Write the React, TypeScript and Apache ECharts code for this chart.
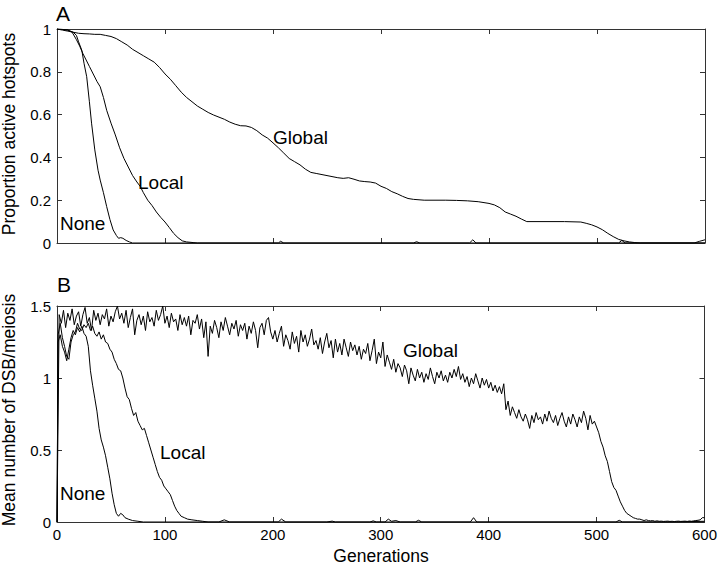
import React, { useEffect, useRef } from "react";
import * as echarts from "echarts";

// Panel A: proportion of active hotspots [generation, value]
const aGlobal: [number, number][] = [
  [0, 1], [5, 0.995], [10, 0.99], [15, 0.985], [20, 0.98], [25, 0.978], [30, 0.977], [35, 0.975], [40, 0.975],
  [45, 0.97], [50, 0.965], [55, 0.955], [60, 0.94], [65, 0.925], [70, 0.905], [75, 0.89], [80, 0.875], [85, 0.86],
  [90, 0.845], [95, 0.82], [100, 0.79], [105, 0.765], [110, 0.735], [115, 0.705], [120, 0.68], [125, 0.66],
  [130, 0.64], [135, 0.625], [140, 0.61], [145, 0.598], [150, 0.588], [155, 0.578], [160, 0.565], [165, 0.555],
  [170, 0.548], [175, 0.547], [180, 0.54], [185, 0.525], [190, 0.505], [195, 0.49], [200, 0.468], [205, 0.445],
  [210, 0.42], [215, 0.395], [220, 0.38], [225, 0.365], [230, 0.345], [235, 0.33], [240, 0.325], [250, 0.315],
  [260, 0.305], [265, 0.302], [270, 0.305], [275, 0.298], [280, 0.29], [285, 0.287], [290, 0.285], [295, 0.28],
  [300, 0.265], [305, 0.255], [310, 0.24], [315, 0.23], [320, 0.218], [325, 0.208], [330, 0.204], [340, 0.2],
  [350, 0.2], [360, 0.2], [370, 0.199], [380, 0.197], [390, 0.193], [400, 0.185], [405, 0.178], [410, 0.165],
  [415, 0.145], [420, 0.135], [425, 0.125], [430, 0.112], [435, 0.1], [450, 0.1], [470, 0.1], [485, 0.098],
  [490, 0.092], [495, 0.085], [500, 0.075], [505, 0.062], [510, 0.045], [515, 0.03], [520, 0.017], [525, 0.01],
  [530, 0.005], [535, 0.002], [540, 0], [600, 0],
];
const aLocal: [number, number][] = [
  [0, 1], [5, 0.998], [10, 0.995], [14, 0.985], [18, 0.95], [21, 0.92], [24, 0.885], [27, 0.855], [30, 0.825],
  [34, 0.785], [37, 0.755], [40, 0.73], [43, 0.68], [46, 0.62], [50, 0.56], [54, 0.505], [58, 0.445], [62, 0.395],
  [66, 0.355], [70, 0.315], [74, 0.285], [77, 0.265], [80, 0.235], [84, 0.2], [88, 0.175], [92, 0.145], [96, 0.12],
  [100, 0.098], [104, 0.072], [108, 0.045], [112, 0.025], [116, 0.01], [120, 0.005], [126, 0.002], [130, 0],
  [205, 0], [207, 0.008], [210, 0], [330, 0], [333, 0.006], [336, 0], [382, 0], [385, 0.015], [388, 0],
  [520, 0], [523, 0.012], [526, 0], [590, 0], [595, 0.008], [600, 0.015],
];
const aNone: [number, number][] = [
  [0, 1], [5, 0.998], [10, 0.995], [15, 0.985], [18, 0.97], [20, 0.94], [23, 0.9], [25, 0.84], [27.5, 0.777],
  [30, 0.66], [32, 0.56], [35, 0.435], [38, 0.34], [40, 0.294], [43, 0.235], [46, 0.17], [49, 0.11], [52, 0.061],
  [55, 0.035], [57, 0.022], [59, 0.025], [61, 0.022], [64, 0.012], [67, 0.005], [70, 0], [600, 0],
];

// Panel B: mean number of DSB per meiosis
const bGlobalStep = 2; // generations between successive values below, starting at 0
const bGlobalValues: number[] = [
  0, 1.44, 1.38, 1.47, 1.35, 1.45, 1.40, 1.48, 1.37, 1.43,
  1.46, 1.36, 1.44, 1.49, 1.38, 1.42, 1.33, 1.47, 1.40, 1.45,
  1.37, 1.44, 1.41, 1.48, 1.36, 1.43, 1.39, 1.46, 1.50, 1.41,
  1.45, 1.38, 1.47, 1.35, 1.42, 1.48, 1.30, 1.40, 1.44, 1.37,
  1.43, 1.33, 1.46, 1.39, 1.42, 1.36, 1.47, 1.40, 1.44, 1.50,
  1.38, 1.43, 1.35, 1.45, 1.39, 1.41, 1.33, 1.44, 1.37, 1.42,
  1.36, 1.43, 1.30, 1.40, 1.38, 1.44, 1.34, 1.41, 1.28, 1.39,
  1.15, 1.36, 1.31, 1.40, 1.35, 1.28, 1.39, 1.33, 1.42, 1.36,
  1.30, 1.38, 1.34, 1.40, 1.29, 1.37, 1.33, 1.38, 1.27, 1.36,
  1.31, 1.39, 1.33, 1.21, 1.35, 1.38, 1.30, 1.40, 1.42, 1.32,
  1.27, 1.33, 1.25, 1.31, 1.36, 1.22, 1.30, 1.26, 1.20, 1.32,
  1.24, 1.29, 1.18, 1.33, 1.25, 1.30, 1.22, 1.27, 1.34, 1.23,
  1.26, 1.20, 1.28, 1.17, 1.25, 1.31, 1.21, 1.26, 1.14, 1.27,
  1.18, 1.24, 1.16, 1.27, 1.21, 1.15, 1.25, 1.19, 1.23, 1.16,
  1.22, 1.13, 1.20, 1.17, 1.24, 1.12, 1.19, 1.27, 1.10, 1.18,
  1.14, 1.25, 1.08, 1.16, 1.11, 1.06, 1.13, 1.04, 1.10, 1.07,
  1.01, 1.09, 1.05, 0.96, 1.07, 1.02, 0.98, 1.06, 1.00, 1.04,
  0.97, 1.03, 0.99, 1.07, 1.01, 0.96, 1.04, 1.00, 1.05, 0.98,
  1.02, 0.97, 1.04, 1.00, 1.06, 1.01, 1.08, 0.99, 1.03, 0.97,
  1.01, 0.94, 1.00, 0.96, 1.03, 0.98, 0.93, 1.00, 0.95, 0.99,
  0.93, 0.97, 0.91, 0.95, 0.90, 0.94, 0.89, 0.96, 0.78, 0.84,
  0.74, 0.80, 0.76, 0.72, 0.78, 0.73, 0.70, 0.75, 0.71, 0.65,
  0.74, 0.69, 0.76, 0.71, 0.73, 0.68, 0.75, 0.70, 0.77, 0.72,
  0.69, 0.74, 0.67, 0.72, 0.76, 0.70, 0.66, 0.73, 0.68, 0.75,
  0.71, 0.66, 0.73, 0.69, 0.77, 0.72, 0.64, 0.74, 0.68, 0.70,
  0.66, 0.62, 0.56, 0.52, 0.46, 0.42, 0.35, 0.28, 0.24, 0.22,
  0.18, 0.14, 0.11, 0.08, 0.06, 0.05, 0.04, 0.03, 0.025, 0.02,
  0.02, 0.015, 0.01, 0.015, 0.01, 0.008, 0.01, 0.005, 0.008, 0.005,
  0.006, 0.004, 0.005, 0.006, 0.004, 0.005, 0.003, 0.005, 0.006, 0.004,
  0.005, 0.006, 0.004, 0.007, 0.005, 0.008, 0.01, 0.012, 0.015, 0.03,
  0.03,
];
const bLocal: [number, number][] = [
  [0, 0], [1, 1.30], [3, 1.38], [5, 1.28], [7, 1.22], [9, 1.15], [11, 1.13], [13, 1.25], [15, 1.30], [17, 1.32],
  [19, 1.38], [21, 1.34], [23, 1.33], [25, 1.37], [27, 1.35], [29, 1.38], [31, 1.33], [33, 1.36], [35, 1.31],
  [37, 1.29], [39, 1.32], [41, 1.27], [43, 1.30], [45, 1.25], [47, 1.24], [49, 1.20], [51, 1.18], [53, 1.13],
  [55, 1.10], [57, 1.06], [59, 1.05], [61, 1.00], [63, 0.93], [65, 0.87], [67, 0.85], [69, 0.79], [71, 0.74],
  [73, 0.76], [75, 0.70], [77, 0.67], [79, 0.64], [81, 0.65], [83, 0.60], [85, 0.55], [87, 0.50], [89, 0.45],
  [91, 0.40], [93, 0.35], [95, 0.31], [97, 0.29], [99, 0.25], [101, 0.23], [103, 0.21], [105, 0.19], [107, 0.15],
  [109, 0.11], [111, 0.08], [113, 0.06], [115, 0.04], [118, 0.03], [121, 0.02], [125, 0.015], [130, 0.01],
  [135, 0.005], [140, 0], [205, 0], [208, 0.02], [212, 0], [250, 0], [255, 0.006], [258, 0], [290, 0], [293, 0.008],
  [296, 0], [304, 0], [307, 0.02], [310, 0.005], [314, 0.01], [318, 0], [332, 0], [335, 0.012], [338, 0], [383, 0],
  [386, 0.03], [389, 0], [518, 0], [521, 0.012], [524, 0], [570, 0], [600, 0.005],
];
const bNone: [number, number][] = [
  [0, 0], [1, 1.25], [3, 1.30], [5, 1.22], [7, 1.18], [9, 1.12], [11, 1.20], [13, 1.28], [15, 1.33], [17, 1.30],
  [19, 1.35], [21, 1.32], [23, 1.36], [25, 1.31], [27, 1.29], [29, 1.22], [31, 1.05], [33, 0.95], [35, 0.86],
  [37, 0.77], [39, 0.65], [41, 0.57], [43, 0.52], [45, 0.46], [47, 0.38], [49, 0.30], [51, 0.20], [53, 0.12],
  [55, 0.06], [57, 0.04], [59, 0.06], [61, 0.05], [63, 0.03], [66, 0.02], [70, 0.01], [75, 0.005], [80, 0],
  [150, 0], [155, 0.015], [160, 0], [600, 0],
];

const FONT = "Liberation Sans, Arial, Helvetica, sans-serif";
const AXIS_COLOR = "#333";

function axisBase(extra: any) {
  return {
    axisLine: { show: true, onZero: false, lineStyle: { color: AXIS_COLOR, width: 1 } },
    axisTick: { show: true, inside: true, length: 5, lineStyle: { color: AXIS_COLOR, width: 1 } },
    splitLine: { show: false },
    ...extra,
  };
}

export default function App() {
  const ref = useRef<HTMLDivElement>(null);
  useEffect(() => {
    if (!ref.current) return;
    const chart = echarts.init(ref.current, undefined, { renderer: "svg" });
    const bGlobal = bGlobalValues.map((v, i) => [i * bGlobalStep, v]);
    const lbl = { show: true, color: "#000", fontSize: 15, fontFamily: FONT };
    const noLbl = { show: false };
    const xA = (gi: number, pos: string, label: any) =>
      axisBase({ type: "value", gridIndex: gi, position: pos, min: 0, max: 600, interval: 100, axisLabel: label });
    const yA = (gi: number, pos: string, max: number, interval: number, label: any) =>
      axisBase({ type: "value", gridIndex: gi, position: pos, min: 0, max, interval, axisLabel: label });
    const line = (data: any, xi: number, yi: number, name: string) => ({
      type: "line",
      name,
      data,
      xAxisIndex: xi,
      yAxisIndex: yi,
      showSymbol: false,
      symbol: "none",
      lineStyle: { color: "#000", width: 1 },
      itemStyle: { color: "#000" },
    });
    const txt = (text: string, x: number, y: number, size: number, rot = 0, align = "left") => ({
      type: "text",
      x,
      y,
      rotation: rot,
      style: { text, fontSize: size, fontFamily: FONT, fill: "#000", textAlign: align, textVerticalAlign: "middle" },
    });
    chart.setOption({
      animation: false,
      backgroundColor: "#fff",
      grid: [
        { left: 57, top: 29, width: 648, height: 214 },
        { left: 57, top: 306, width: 648, height: 216 },
      ],
      xAxis: [
        xA(0, "bottom", noLbl),
        xA(0, "top", noLbl),
        xA(1, "bottom", { ...lbl, margin: 5 }),
        xA(1, "top", noLbl),
      ],
      yAxis: [
        yA(0, "left", 1, 0.2, { ...lbl, margin: 6 }),
        yA(0, "right", 1, 0.2, noLbl),
        yA(1, "left", 1.5, 0.5, { ...lbl, margin: 6 }),
        yA(1, "right", 1.5, 0.5, noLbl),
      ],
      series: [
        line(aGlobal, 0, 0, "A Global"),
        line(aLocal, 0, 0, "A Local"),
        line(aNone, 0, 0, "A None"),
        line(bGlobal, 2, 2, "B Global"),
        line(bLocal, 2, 2, "B Local"),
        line(bNone, 2, 2, "B None"),
      ],
      graphic: [
        txt("A", 56, 13, 21),
        txt("B", 57, 284, 21),
        txt("Proportion active hotspots", 9, 134, 17.5, Math.PI / 2, "center"),
        txt("Mean number of DSB/meiosis", 9, 410, 17.5, Math.PI / 2, "center"),
        txt("Generations", 381, 556, 17.5, 0, "center"),
        txt("Global", 273, 137, 19),
        txt("Local", 138, 182, 19),
        txt("None", 60, 223, 19),
        txt("Global", 403, 350, 19),
        txt("Local", 160, 452, 19),
        txt("None", 60, 493, 19),
      ],
    });
    return () => chart.dispose();
  }, []);
  return <div ref={ref} style={{ position: "fixed", left: 0, top: 0, width: 720, height: 567 }} />;
}
